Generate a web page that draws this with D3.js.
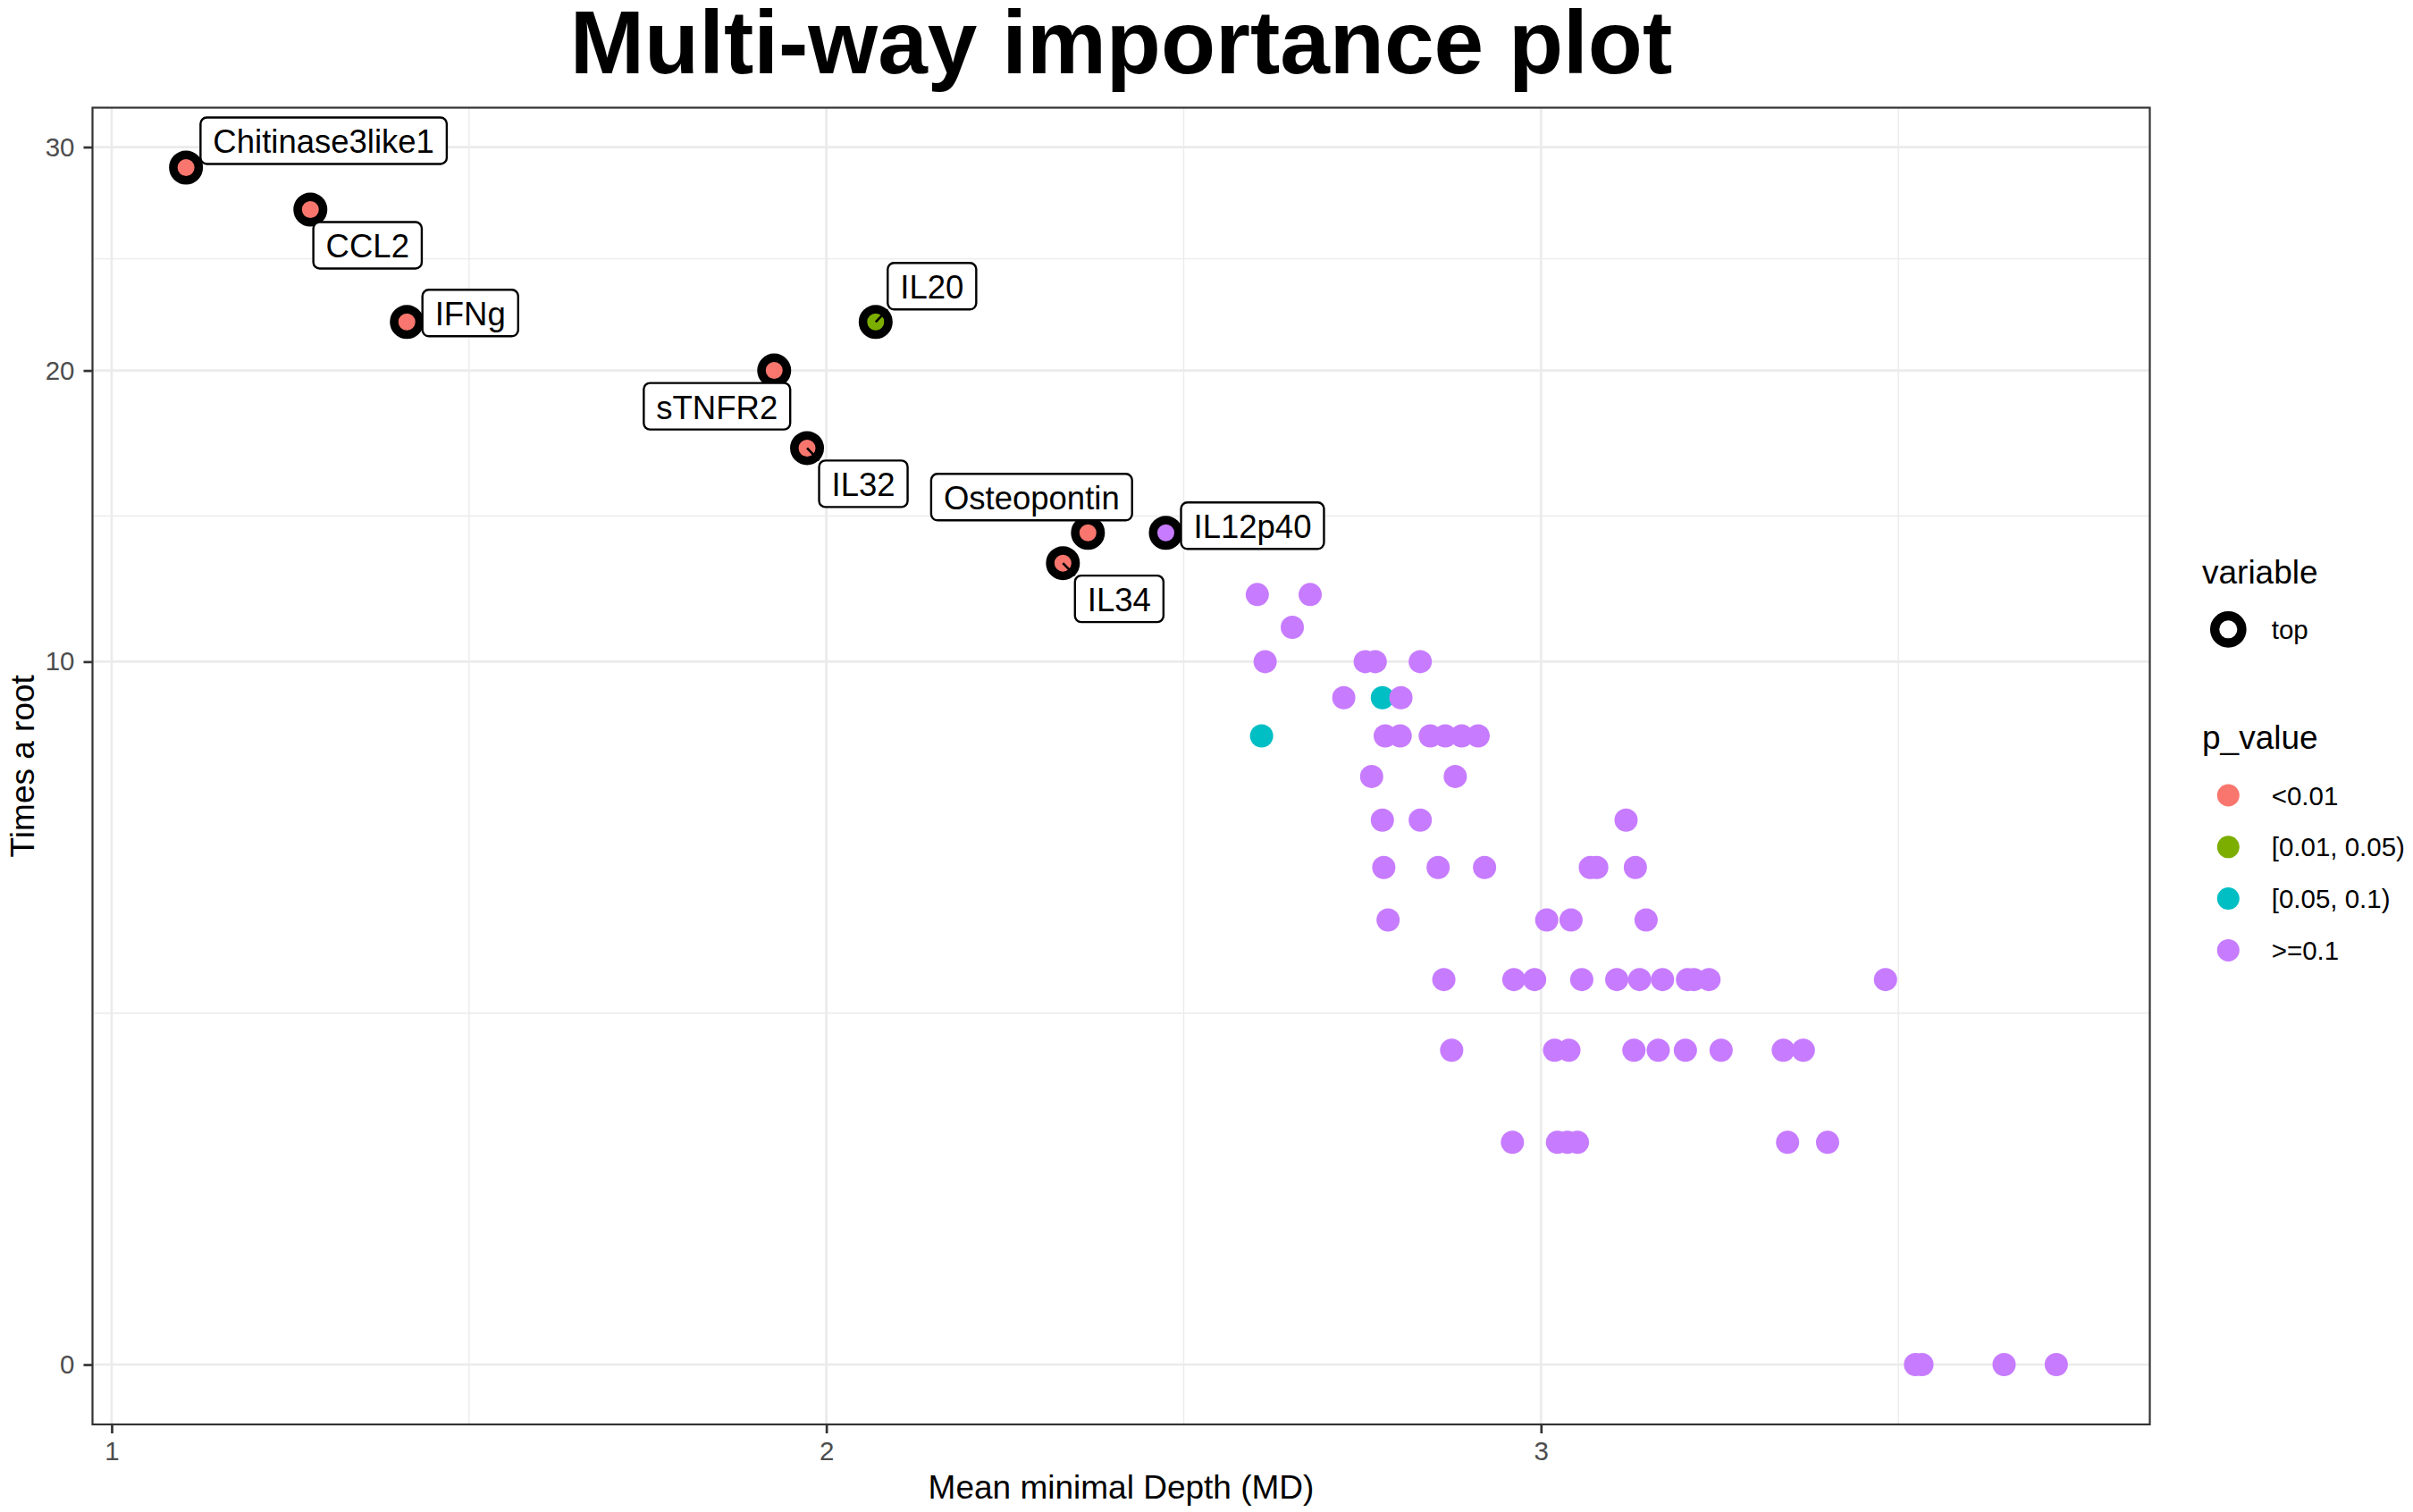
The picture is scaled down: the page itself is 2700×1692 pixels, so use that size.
<!DOCTYPE html>
<html>
<head>
<meta charset="utf-8">
<script src="https://cdn.jsdelivr.net/npm/d3@7"></script>
<style>
body { margin: 0; background: #fff; }
text { font-family: "Liberation Sans", Arial, Helvetica, sans-serif; }
</style>
</head>
<body>
<div id="main"></div>
<script>
// data
var pGroups = ["<0.01", "[0.01, 0.05)", "[0.05, 0.1)", ">=0.1"];
var pColors = ["#F8766D", "#7CAE00", "#00BFC4", "#C77CFF"];

// labelled (top) variables
var topNames = ["Chitinase3like1", "CCL2", "IFNg", "IL20", "sTNFR2", "IL32", "Osteopontin", "IL12p40", "IL34"];
var topDepth = [1.104, 1.278, 1.413, 2.069, 1.927, 1.973, 2.366, 2.475, 2.331];
var topRoot = [29, 27, 22, 22, 20, 17, 14, 14, 13];
var topP = ["<0.01", "<0.01", "<0.01", "[0.01, 0.05)", "<0.01", "<0.01", "<0.01", ">=0.1", "<0.01"];

// remaining variables
var otherDepth = [
    2.603, 2.677,
    2.652,
    2.614, 2.754, 2.768, 2.831,
    2.724, 2.778, 2.804,
    2.609, 2.782, 2.803, 2.845, 2.866, 2.889, 2.912,
    2.763, 2.880,
    2.778, 2.831, 3.119,
    2.780, 2.856, 2.921, 3.069, 3.078, 3.132,
    2.786, 3.008, 3.042, 3.147,
    2.864, 2.962, 2.991, 3.057, 3.106, 3.138, 3.170, 3.205, 3.214, 3.235, 3.482,
    2.875, 3.019, 3.039, 3.130, 3.164, 3.202, 3.252, 3.339, 3.367,
    2.960, 3.023, 3.037, 3.051, 3.345, 3.401,
    3.524, 3.533, 3.648, 3.721
];
var otherRoot = [
    12, 12,
    11,
    10, 10, 10, 10,
    9, 9, 9,
    8, 8, 8, 8, 8, 8, 8,
    7, 7,
    6, 6, 6,
    5, 5, 5, 5, 5, 5,
    4, 4, 4, 4,
    3, 3, 3, 3, 3, 3, 3, 3, 3, 3, 3,
    2, 2, 2, 2, 2, 2, 2, 2, 2,
    1, 1, 1, 1, 1, 1,
    0, 0, 0, 0
];
var otherP = otherDepth.map(function(d, i) { return ">=0.1"; });
otherP[8] = "[0.05, 0.1)";
otherP[10] = "[0.05, 0.1)";

var xTicks = [1, 2, 3];
var yTicks = [0, 10, 20, 30];

// label box centre offset from its point (px), like ggrepel put them
var labelDx = [154, 64, 71, 63, -64, 63, -63, 97, 63];
var labelDy = [-30, 40, -10, -40, 40, 40, -40, -8, 40];
var labelSegment = [false, false, false, true, false, true, false, false, true];

// svg part
var width = 2700, height = 1692;
var pL = 103.5, pR = 2405.5, pT = 120.5, pB = 1594;
var grid_color = "#EBEBEB";
var dark = "#333333";

var svg = d3.select("#main").append("svg")
    .attr("width", width)
    .attr("height", height)
    .style("display", "block");

var allDepth = topDepth.concat(otherDepth);
var allRoot = topRoot.concat(otherRoot);
var ext = d3.extent(allDepth);
var xpad = (ext[1] - ext[0]) * 0.05;
var x = d3.scaleLinear().domain([ext[0] - xpad, ext[1] + xpad]).range([pL, pR]);
var ypad = (pB - pT) * 0.05 / 1.1;
var y = d3.scaleSqrt().domain([0, d3.max(allRoot)]).range([pB - ypad, pT + ypad]);
var color = d3.scaleOrdinal().domain(pGroups).range(pColors);

// minor breaks halfway between majors (in transformed space)
var xMinor = [], yMinor = [];
for (var i = 0; i < xTicks.length; i++) xMinor.push(xTicks[i] + 0.5);
for (var i = 0; i < yTicks.length - 1; i++) {
    var m = (Math.sqrt(yTicks[i]) + Math.sqrt(yTicks[i + 1])) / 2;
    yMinor.push(m * m);
}
var yShown = yTicks.filter(d => y(d) > pT);

var grid = svg.append("g");
grid.selectAll(".xminor").data(xMinor).enter().append("line")
    .attr("x1", d => x(d)).attr("x2", d => x(d))
    .attr("y1", pT).attr("y2", pB)
    .attr("stroke", grid_color).attr("stroke-width", 1.4);
grid.selectAll(".yminor").data(yMinor).enter().append("line")
    .attr("x1", pL).attr("x2", pR)
    .attr("y1", d => y(d)).attr("y2", d => y(d))
    .attr("stroke", grid_color).attr("stroke-width", 1.4);
grid.selectAll(".xmajor").data(xTicks).enter().append("line")
    .attr("x1", d => x(d)).attr("x2", d => x(d))
    .attr("y1", pT).attr("y2", pB)
    .attr("stroke", grid_color).attr("stroke-width", 2.7);
grid.selectAll(".ymajor").data(yShown).enter().append("line")
    .attr("x1", pL).attr("x2", pR)
    .attr("y1", d => y(d)).attr("y2", d => y(d))
    .attr("stroke", grid_color).attr("stroke-width", 2.7);

// points
var others = otherDepth.map(function(d, i) { return {x: d, y: otherRoot[i], p: otherP[i]}; });
var tops = topDepth.map(function(d, i) {
    return {name: topNames[i], x: d, y: topRoot[i], p: topP[i],
            dx: labelDx[i], dy: labelDy[i], seg: labelSegment[i]};
});

svg.append("g").selectAll("circle").data(others.concat(tops)).enter().append("circle")
    .attr("cx", d => x(d.x)).attr("cy", d => y(d.y))
    .attr("r", 13)
    .attr("fill", d => color(d.p));

svg.append("g").selectAll("circle").data(tops).enter().append("circle")
    .attr("cx", d => x(d.x)).attr("cy", d => y(d.y))
    .attr("r", 14.25)
    .attr("fill", "none")
    .attr("stroke", "#000")
    .attr("stroke-width", 9.5);

// labels
var labels = svg.append("g");
tops.forEach(function(d) {
    var px = x(d.x), py = y(d.y);
    var cx = px + d.dx, cy = py + d.dy;
    var g = labels.append("g");
    var seg = g.append("line");
    var rect = g.append("rect");
    var t = g.append("text")
        .text(d.name)
        .attr("x", cx).attr("y", cy + 14)
        .attr("text-anchor", "middle")
        .attr("font-size", 36.5)
        .attr("fill", "#000");
    var w = t.node().getComputedTextLength() + 28;
    var h = 52;
    rect.attr("x", cx - w / 2).attr("y", cy - h / 2)
        .attr("width", w).attr("height", h)
        .attr("rx", 7)
        .attr("fill", "#fff")
        .attr("stroke", "#000")
        .attr("stroke-width", 2.4);
    if (d.seg) {
        var ex = Math.max(cx - w / 2, Math.min(px, cx + w / 2));
        var ey = Math.max(cy - h / 2, Math.min(py, cy + h / 2));
        seg.attr("x1", px).attr("y1", py).attr("x2", ex).attr("y2", ey)
            .attr("stroke", "#000").attr("stroke-width", 2.6);
    } else {
        seg.remove();
    }
});

// panel border
svg.append("rect")
    .attr("x", pL).attr("y", pT)
    .attr("width", pR - pL).attr("height", pB - pT)
    .attr("fill", "none").attr("stroke", dark).attr("stroke-width", 2.2);

// axes
var xAxis = svg.append("g")
    .attr("transform", "translate(0," + pB + ")")
    .call(d3.axisBottom(x).tickValues(xTicks).tickFormat(d3.format("d")).tickSize(10).tickPadding(9));
var yAxis = svg.append("g")
    .attr("transform", "translate(" + pL + ",0)")
    .call(d3.axisLeft(y).tickValues(yShown).tickFormat(d3.format("d")).tickSize(10).tickPadding(10));
[xAxis, yAxis].forEach(function(a) {
    a.select(".domain").remove();
    a.selectAll(".tick line").attr("stroke", dark).attr("stroke-width", 2.7);
    a.selectAll(".tick text")
        .attr("fill", "#4D4D4D")
        .attr("font-size", 29.5)
        .attr("font-family", "Liberation Sans, Arial, sans-serif");
});

// titles
svg.append("text")
    .text("Multi-way importance plot")
    .attr("x", (pL + pR) / 2).attr("y", 82)
    .attr("text-anchor", "middle")
    .attr("font-size", 100)
    .attr("font-weight", "bold")
    .attr("fill", "#000");

svg.append("text")
    .text("Mean minimal Depth (MD)")
    .attr("x", (pL + pR) / 2).attr("y", 1677)
    .attr("text-anchor", "middle")
    .attr("font-size", 37)
    .attr("fill", "#000");

svg.append("text")
    .text("Times a root")
    .attr("transform", "translate(38," + (pT + pB) / 2 + ") rotate(-90)")
    .attr("text-anchor", "middle")
    .attr("font-size", 37)
    .attr("fill", "#000");

// legend
var lx = 2464, keyx = 2493.3, labx = 2541.7;
svg.append("text").text("variable")
    .attr("x", lx).attr("y", 653)
    .attr("font-size", 37).attr("fill", "#000");
svg.append("circle")
    .attr("cx", keyx).attr("cy", 704.3).attr("r", 15.2)
    .attr("fill", "none").attr("stroke", "#000").attr("stroke-width", 10.3);
svg.append("text").text("top")
    .attr("x", labx).attr("y", 714.5)
    .attr("font-size", 29.5).attr("fill", "#000");

svg.append("text").text("p_value")
    .attr("x", lx).attr("y", 838.3)
    .attr("font-size", 37).attr("fill", "#000");
var leg = svg.append("g").selectAll("g").data(pGroups).enter().append("g")
    .attr("transform", (d, i) => "translate(0," + (890 + i * 57.8) + ")");
leg.append("circle")
    .attr("cx", keyx).attr("cy", 0).attr("r", 12.5)
    .attr("fill", d => color(d));
leg.append("text").text(d => d)
    .attr("x", labx).attr("y", 10.5)
    .attr("font-size", 29.5).attr("fill", "#000");
</script>
</body>
</html>
